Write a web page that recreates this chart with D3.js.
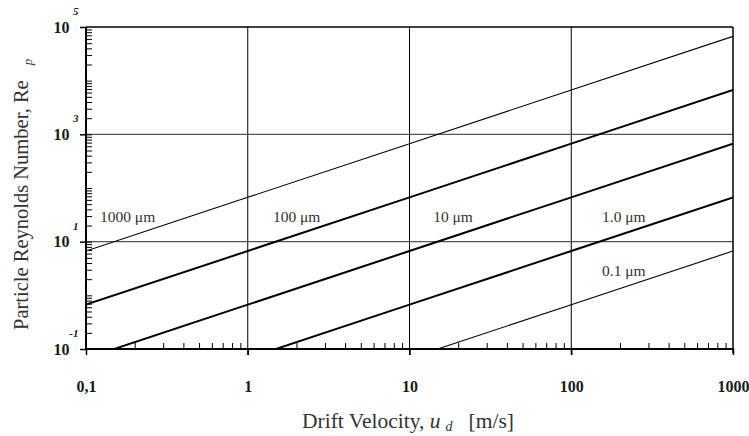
<!DOCTYPE html>
<html>
<head>
<meta charset="utf-8">
<script src="https://cdn.jsdelivr.net/npm/d3@7"></script>
<style>
  body { margin: 0; background: #fff; }
  svg { display: block; }
</style>
</head>
<body>
<svg id="chart"></svg>
<script>
// drift velocity sample points [m/s]
const velocity = [0.1, 1, 10, 100, 1000];

// particle Reynolds number
const re1000um = [6.7, 67, 670, 6700, 67000];
const re100um = [0.67, 6.7, 67, 670, 6700];
const re10um = [0.067, 0.67, 6.7, 67, 670];
const re1um = [0.0067, 0.067, 0.67, 6.7, 67];
const re01um = [0.00067, 0.0067, 0.067, 0.67, 6.7];

const seriesNames = ["1000 μm", "100 μm", "10 μm", "1.0 μm", "0.1 μm"];
const seriesValues = [re1000um, re100um, re10um, re1um, re01um];
const seriesThick = [false, true, true, true, false];
// label anchor in data coords (velocity, Re)
const labelAt = [[0.122, 23], [1.43, 23], [14, 23], [155, 23], [155, 2.3]];

const xMajor = [0.1, 1, 10, 100, 1000];
const xMajorText = ["0,1", "1", "10", "100", "1000"];
const yMajor = [0.1, 10, 1000, 100000];
const yExp = ["-1", "1", "3", "5"];

const width = 749, height = 436;
const marginLeft = 86, marginRight = 16, marginTop = 27, marginBottom = 87;

const svg = d3.select("#chart")
  .attr("width", width)
  .attr("height", height)
  .attr("viewBox", [0, 0, width, height]);

const x = d3.scaleLog([0.1, 1000], [marginLeft, width - marginRight]);
const y = d3.scaleLog([0.1, 100000], [height - marginBottom, marginTop]);

const serif = "'Liberation Serif', 'DejaVu Serif', serif";
const ink = "#1a1a1a";

// minor ticks (2..9 in every decade)
const minorX = [], minorY = [];
for (let d = 0.1; d < 1000; d *= 10)
  for (let k = 2; k <= 9; k++) minorX.push(+(d * k).toPrecision(3));
for (let d = 0.1; d < 100000; d *= 10)
  for (let k = 1; k <= 9; k++) minorY.push(+(d * k).toPrecision(3));

// grid lines
svg.append("g")
  .selectAll("line")
  .data([1, 10, 100])
  .join("line")
    .attr("x1", d => x(d)).attr("x2", d => x(d))
    .attr("y1", y(0.1) + 6).attr("y2", y(100000))
    .attr("stroke", "#000").attr("stroke-width", 1);

svg.append("g")
  .selectAll("line")
  .data([10, 1000])
  .join("line")
    .attr("x1", x(0.1)).attr("x2", x(1000))
    .attr("y1", d => y(d)).attr("y2", d => y(d))
    .attr("stroke", "#555").attr("stroke-width", 1.2);

// series lines
svg.append("clipPath").attr("id", "plot-clip")
  .append("rect")
    .attr("x", x(0.1)).attr("y", y(100000))
    .attr("width", x(1000) - x(0.1))
    .attr("height", y(0.1) - y(100000));

const line = d3.line()
  .x(d => x(d[0]))
  .y(d => y(d[1]));

svg.append("g")
  .attr("clip-path", "url(#plot-clip)")
  .selectAll("path")
  .data(seriesValues)
  .join("path")
    .attr("fill", "none")
    .attr("stroke", "#000")
    .attr("stroke-width", (_, i) => seriesThick[i] ? 2 : 1.1)
    .attr("d", vals => line(velocity.map((v, j) => [v, vals[j]])));

svg.append("g")
  .selectAll("text")
  .data(seriesNames)
  .join("text")
    .attr("x", (_, i) => x(labelAt[i][0]))
    .attr("y", (_, i) => y(labelAt[i][1]))
    .attr("font-family", serif)
    .attr("font-size", 15.5)
    .attr("fill", "#333")
    .text(d => d);

// x axis: minor ticks inside, majors outside with labels
svg.append("g")
  .attr("transform", `translate(0, ${y(0.1)})`)
  .call(d3.axisBottom(x).tickValues(minorX).tickSize(-6).tickFormat(""))
  .call(g => g.select(".domain").remove())
  .call(g => g.selectAll(".tick line").attr("stroke-width", 1));

svg.append("g")
  .attr("transform", `translate(0, ${y(0.1)})`)
  .call(d3.axisBottom(x).tickValues(xMajor).tickSize(6)
    .tickFormat((d, i) => xMajorText[i]))
  .call(g => g.select(".domain").remove())
  .call(g => g.selectAll(".tick line").attr("stroke-width", 1.5))
  .call(g => g.selectAll(".tick text")
    .attr("y", 43)
    .attr("dy", 0)
    .attr("font-family", serif)
    .attr("font-weight", "bold")
    .attr("font-size", 16)
    .attr("fill", ink));

// y axis
svg.append("g")
  .attr("transform", `translate(${x(0.1)}, 0)`)
  .call(d3.axisLeft(y).tickValues(minorY).tickSize(-6).tickFormat(""))
  .call(g => g.select(".domain").remove());

const yAxis = svg.append("g")
  .attr("transform", `translate(${x(0.1)}, 0)`)
  .call(d3.axisLeft(y).tickValues(yMajor).tickSize(6).tickFormat(""))
  .call(g => g.select(".domain").remove())
  .call(g => g.selectAll(".tick line").attr("stroke-width", 1.5));

yAxis.selectAll(".tick")
  .append("text")
    .attr("x", -16.5)
    .attr("dy", "0.33em")
    .attr("text-anchor", "end")
    .attr("font-family", serif)
    .attr("font-weight", "bold")
    .attr("font-size", 16)
    .attr("fill", ink)
    .text("10");

yAxis.selectAll(".tick")
  .append("text")
    .attr("x", -7.5)
    .attr("y", -12.5)
    .attr("text-anchor", "end")
    .attr("font-family", serif)
    .attr("font-style", "italic")
    .attr("font-weight", "bold")
    .attr("font-size", 11)
    .attr("fill", ink)
    .text((_, i) => yExp[i]);

// frame
const frame = svg.append("g").attr("stroke", "#000").attr("fill", "none");
frame.append("line")
  .attr("x1", x(0.1)).attr("x2", x(1000))
  .attr("y1", y(100000)).attr("y2", y(100000)).attr("stroke-width", 1.5);
frame.append("line")
  .attr("x1", x(1000)).attr("x2", x(1000))
  .attr("y1", y(100000)).attr("y2", y(0.1) + 4).attr("stroke-width", 1.5);
frame.append("line")
  .attr("x1", x(0.1) - 1).attr("x2", x(1000) + 1)
  .attr("y1", y(0.1)).attr("y2", y(0.1)).attr("stroke-width", 2);
frame.append("line")
  .attr("x1", x(0.1)).attr("x2", x(0.1))
  .attr("y1", y(100000)).attr("y2", y(0.1)).attr("stroke-width", 2);

// axis titles
const xTitle = svg.append("text")
  .attr("x", 302)
  .attr("y", 428)
  .attr("font-family", serif)
  .attr("font-size", 21.5)
  .attr("fill", "#333");
xTitle.append("tspan").text("Drift Velocity, ");
xTitle.append("tspan").attr("font-style", "italic").text("u");
xTitle.append("tspan").attr("font-style", "italic").attr("font-size", 14)
  .attr("dx", 5).attr("dy", 3).text("d");
xTitle.append("tspan").attr("dx", 16).attr("dy", -3).text("[m/s]");

const yTitle = svg.append("text")
  .attr("transform", "translate(28, 330) rotate(-90)")
  .attr("font-family", serif)
  .attr("font-size", 20.5)
  .attr("fill", "#333");
yTitle.append("tspan").text("Particle Reynolds Number, Re");
yTitle.append("tspan").attr("font-style", "italic").attr("font-size", 13)
  .attr("dx", 15).attr("dy", 4).text("p");
</script>
</body>
</html>
